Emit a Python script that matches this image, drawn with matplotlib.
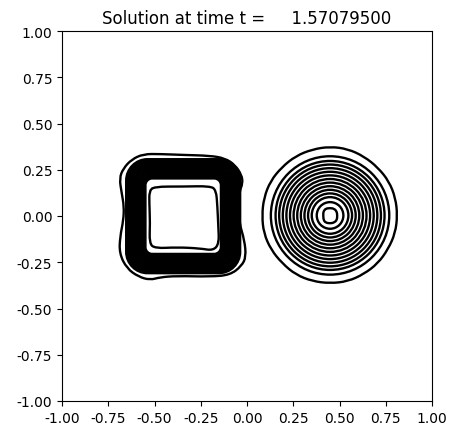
import numpy as np
import matplotlib
matplotlib.use("Agg")
import matplotlib.pyplot as plt
from matplotlib.path import Path
from matplotlib.patches import PathPatch, Circle

TITLE = "Solution at time t =     1.57079500"
ticks = [-1.00, -0.75, -0.50, -0.25, 0.00, 0.25, 0.50, 0.75, 1.00]

square_outer_x = [-0.560,-0.470,-0.344,-0.200,-0.119,-0.065,-0.029,-0.023,-0.041,-0.047,-0.041,-0.014,-0.005,-0.029,-0.092,-0.200,-0.380,-0.470,-0.524,-0.587,-0.650,-0.690,-0.686,-0.668,-0.665,-0.677,-0.690,-0.668,-0.623]
square_outer_y = [0.335,0.335,0.330,0.326,0.312,0.276,0.222,0.177,0.132,0.051,-0.040,-0.130,-0.220,-0.270,-0.319,-0.328,-0.324,-0.331,-0.346,-0.328,-0.283,-0.202,-0.111,-0.022,0.051,0.123,0.204,0.258,0.306]
square_inner_x = [-0.506,-0.344,-0.200,-0.167,-0.160,-0.155,-0.151,-0.182,-0.254,-0.380,-0.497,-0.528,-0.524,-0.528,-0.528]
square_inner_y = [0.159,0.159,0.162,0.141,0.051,-0.058,-0.148,-0.187,-0.175,-0.169,-0.175,-0.148,-0.040,0.069,0.132]

band_half = [0.308,0.300,0.292,0.284,0.276,0.268,0.260,0.252,0.244,0.236,0.228,0.220,0.212,0.204]
band_round = [0.115,0.108,0.101,0.095,0.089,0.083,0.077,0.071,0.065,0.059,0.053,0.047,0.041,0.036]
band_cx, band_cy = -0.345, -0.001

cone_cx, cone_cy = 0.449, 0.003
cone_radii = [0.072,0.099,0.119,0.1385,0.158,0.1775,0.197,0.2165,0.236,0.2555,0.275,0.2945,0.320]
cone_outer_r = [0.364,0.366,0.368,0.366,0.368,0.372,0.372,0.370,0.371,0.369,0.372,0.370,0.368,0.371,0.369,0.366,0.370,0.368,0.367,0.369,0.366,0.366,0.363,0.365]
cone_core_x = [0.425,0.449,0.470,0.485,0.488,0.486,0.470,0.449,0.425,0.414,0.412,0.413]
cone_core_y = [0.040,0.043,0.040,0.025,0.003,-0.022,-0.036,-0.040,-0.036,-0.022,0.003,0.025]

LW = 1.7


def smooth_closed(xs, ys):
    pts = np.column_stack([xs, ys])
    mids = (pts + np.roll(pts, -1, axis=0)) / 2
    verts = [mids[-1]]
    codes = [Path.MOVETO]
    for p, m in zip(pts, mids):
        verts += [p, m]
        codes += [Path.CURVE3, Path.CURVE3]
    return Path(verts, codes)


def round_square(cx, cy, h, r):
    k = r * 0.45
    l, b, R, t = cx-h, cy-h, cx+h, cy+h
    verts = [(l+r, b), (R-r, b), (R-k, b), (R, b+k), (R, b+r), (R, t-r), (R, t-k), (R-k, t), (R-r, t),
             (l+r, t), (l+k, t), (l, t-k), (l, t-r), (l, b+r), (l, b+k), (l+k, b), (l+r, b)]
    c4, ln = Path.CURVE4, Path.LINETO
    codes = [Path.MOVETO, ln, c4, c4, c4, ln, c4, c4, c4, ln, c4, c4, c4, ln, c4, c4, c4]
    return Path(verts, codes)


fig = plt.figure(figsize=(4.57, 4.35), dpi=100)
ax = fig.add_axes([62/457, (435-402)/435, 370/457, 370/435])
ax.set_xlim(-1, 1)
ax.set_ylim(-1, 1)
ax.set_aspect("equal")
ax.set_xticks(ticks)
ax.set_yticks(ticks)
ax.set_xticklabels([f"{t:.2f}" for t in ticks])
ax.set_yticklabels([f"{t:.2f}" for t in ticks])
ax.set_title(TITLE, pad=5.5)

style = dict(fill=False, edgecolor="black", linewidth=LW)
ax.add_patch(PathPatch(smooth_closed(square_outer_x, square_outer_y), **style))
ax.add_patch(PathPatch(smooth_closed(square_inner_x, square_inner_y), **style))
for h, r in zip(band_half, band_round):
    ax.add_patch(PathPatch(round_square(band_cx, band_cy, h, r), **style))
for r in cone_radii:
    ax.add_patch(Circle((cone_cx, cone_cy), r, **style))
theta = np.linspace(0, 2*np.pi, len(cone_outer_r), endpoint=False)
r_out = np.array(cone_outer_r)
ax.add_patch(PathPatch(smooth_closed(cone_cx + r_out*np.cos(theta), cone_cy + r_out*np.sin(theta)), **style))
ax.add_patch(PathPatch(smooth_closed(cone_core_x, cone_core_y), **style))

fig.savefig("out.png", dpi=100)
